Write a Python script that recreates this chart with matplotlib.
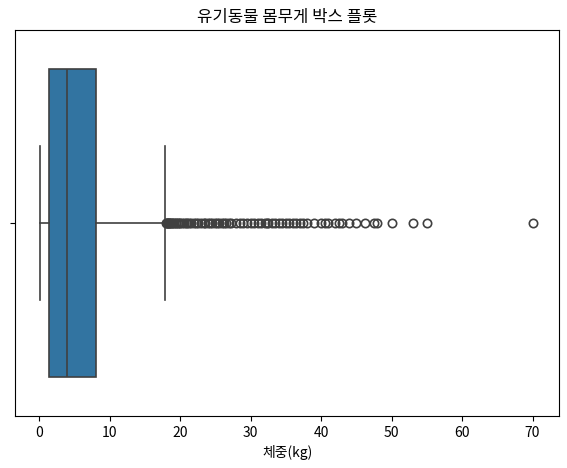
import matplotlib
matplotlib.use("Agg")
import matplotlib.pyplot as plt

plt.rcParams['font.family'] = ['Noto Sans CJK KR', 'DejaVu Sans']
plt.rcParams['axes.unicode_minus'] = False

# box summary (kg)
whisker_low = 0.1
q1 = 1.35
median = 4.0
q3 = 8.05
whisker_high = 17.9

# outliers beyond the upper whisker
outliers = [18.0, 18.1, 18.2, 18.3, 18.4, 18.5, 18.6, 18.7, 18.8, 19.0,
            19.2, 19.4, 19.5, 19.7, 19.9, 20.0, 20.3, 20.5, 20.8, 21.0,
            21.3, 21.5, 22.0, 22.3, 22.5, 23.0, 23.4, 23.5, 24.0, 24.3,
            24.5, 25.0, 25.3, 25.6, 26.0, 26.3, 26.5, 27.0, 27.3, 28.0,
            28.5, 29.0, 29.5, 30.0, 30.5, 31.0, 31.5, 32.0, 32.3, 32.5,
            33.0, 33.5, 34.0, 34.5, 35.0, 35.5, 36.0, 36.5, 37.0, 37.5,
            38.0, 39.0, 40.0, 40.5, 41.0, 42.0, 42.5, 43.0, 44.0, 45.0,
            46.2, 47.5, 48.0, 50.0, 53.0, 55.0, 70.0]

stats = [dict(med=median, q1=q1, q3=q3, whislo=whisker_low,
              whishi=whisker_high, fliers=outliers)]

fig = plt.figure(figsize=(5.67, 4.68), dpi=100)
ax = fig.add_axes([0.0265, 0.111, 0.96, 0.825])

line_c = '#404040'
ax.bxp(stats, positions=[0], vert=False, widths=0.8, patch_artist=True,
       capwidths=0.4,
       boxprops=dict(facecolor='#3274a1', edgecolor=line_c, linewidth=1.2),
       medianprops=dict(color=line_c, linewidth=1.2),
       whiskerprops=dict(color=line_c, linewidth=1.2),
       capprops=dict(color=line_c, linewidth=1.2),
       flierprops=dict(marker='o', markerfacecolor='none',
                       markeredgecolor=line_c, markersize=6,
                       markeredgewidth=1.2))

ax.set_ylim(0.5, -0.5)
ax.set_xlim(-3.4, 73.8)
ax.set_yticks([0])
ax.set_yticklabels([''])
ax.set_xticks(range(0, 80, 10))
ax.tick_params(labelsize=10)
ax.set_xlabel('체중(kg)', fontsize=10)
ax.set_title('유기동물 몸무게 박스 플롯', fontsize=12)

fig.savefig('out.png', dpi=100)
